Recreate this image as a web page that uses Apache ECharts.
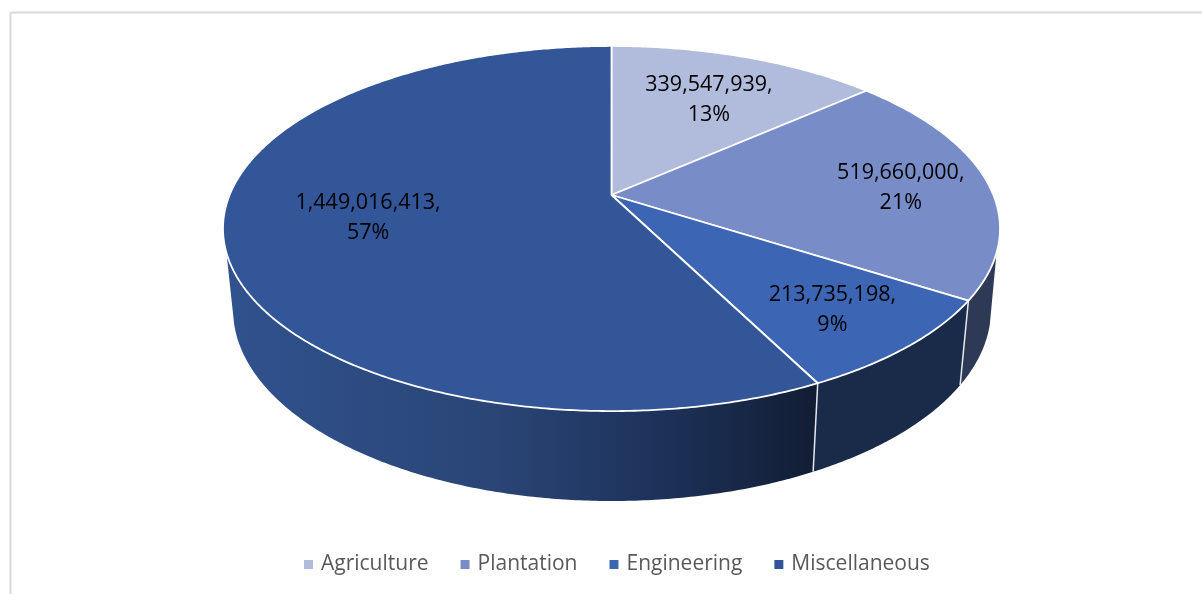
<!DOCTYPE html>
<html><head><meta charset="utf-8">
<style>html,body{margin:0;padding:0;background:#fff}#c{width:1202px;height:594px}</style>
<script src="https://cdn.jsdelivr.net/npm/echarts@6/dist/echarts.min.js"></script>
</head><body><div id="c"></div>
<script>
const categories = ['Agriculture', 'Plantation', 'Engineering', 'Miscellaneous'];
const values = [339547939, 519660000, 213735198, 1449016413];
const percentLabels = ['13%', '21%', '9%', '57%'];
const topColors = ['#B1BBDC', '#788DC8', '#3C66B3', '#335698'];

const total = values.reduce((a, b) => a + b, 0);
const FONT = '"Open Sans","Noto Sans",sans-serif';
// perspective disc geometry (style, not data)
const P = 0.1836;
const TOP = { cx: 611.5, cy: 195, a: 381.9, b: 176.4 };
const BOT = { cx: 612, cy: 274.4, a: 372.5, b: 185 };
const WALL_FROM = 108, WALL_TO = 252, BOT_EXTRA = 3.2;
const LABEL_R = [0.67, 0.76, 0.772, 0.635];
const LABEL_NUDGE = [[3, 2], [3, 3], [0, 2], [-1, -4]];
const WALL_FILL = [
  null, '#2E3A55', '#1A2B4A',
  new echarts.graphic.LinearGradient(0, 0, 1, 0, [
    { offset: 0, color: '#30528E' },
    { offset: 0.45, color: '#2A4576' },
    { offset: 0.75, color: '#1C3158' },
    { offset: 1, color: '#121D33' }
  ])
];
function proj(d, deg, r) {
  const t = deg * Math.PI / 180, u = r * Math.sin(t), v = r * Math.cos(t), w = 1 + P * v;
  return [d.cx + d.a * u / w, d.cy - d.b * v / w];
}
function arc(d, s, e) {
  const pts = [], n = Math.max(2, Math.ceil(Math.abs(e - s) * 2));
  for (let i = 0; i <= n; i++) pts.push(proj(d, s + (e - s) * i / n, 1));
  return pts;
}
function renderSlice(idx) {
  return function (params, api) {
    const val = api.value(0);
    let before = 0;
    for (let i = 0; i < idx; i++) before += values[i];
    const s = before / total * 360, e = (before + val) / total * 360;
    const children = [];
    const ws = Math.max(s, WALL_FROM), we = Math.min(e, WALL_TO);
    if (we > ws) {
      const bs = s > WALL_FROM ? s : WALL_FROM - BOT_EXTRA;
      const be = e < WALL_TO ? e : WALL_TO + BOT_EXTRA;
      children.push({
        type: 'polygon', z2: 1,
        shape: { points: arc(TOP, ws, we).concat(arc(BOT, bs, be).reverse()) },
        style: { fill: WALL_FILL[idx], stroke: 'none' }
      });
      // white divider at the slice's starting edge on the wall
      if (s >= WALL_FROM && s <= WALL_TO) {
        const a = proj(TOP, s, 1), b = proj(BOT, s, 1);
        children.push({
          type: 'line', z2: 2,
          shape: { x1: a[0], y1: a[1], x2: b[0], y2: b[1] },
          style: { stroke: '#E4E7EE', lineWidth: 1.5 }
        });
      }
    }
    children.push({
      type: 'polygon', z2: 10,
      shape: { points: [[TOP.cx, TOP.cy]].concat(arc(TOP, s, e)) },
      style: { fill: topColors[idx], stroke: '#FFFFFF', lineWidth: 1.8, lineJoin: 'round' }
    });
    const lp = proj(TOP, (s + e) / 2, LABEL_R[idx]);
    children.push({
      type: 'text', z2: 20, x: lp[0] + LABEL_NUDGE[idx][0], y: lp[1] + LABEL_NUDGE[idx][1],
      style: {
        text: val.toLocaleString('en-US') + ',\n' + percentLabels[idx],
        fill: '#000', font: '21.5px ' + FONT, lineHeight: 29.5,
        textAlign: 'center', textVerticalAlign: 'middle'
      }
    });
    return { type: 'group', children };
  };
}
const chart = echarts.init(document.getElementById('c'), null, { renderer: 'canvas' });
chart.setOption({
  animation: false,
  backgroundColor: '#fff',
  legend: {
    data: categories, bottom: 14, left: 299, padding: 5, icon: 'rect',
    itemWidth: 9, itemHeight: 9, itemGap: 32, selectedMode: false,
    textStyle: { color: '#595959', fontSize: 21, fontFamily: FONT, padding: [0, 0, 0, 3] }
  },
  graphic: [
    { type: 'line', shape: { x1: 11, y1: 12.5, x2: 1202, y2: 12.5 }, style: { stroke: '#D9D9D9', lineWidth: 2 }, silent: true },
    { type: 'line', shape: { x1: 10.5, y1: 12, x2: 10.5, y2: 594 }, style: { stroke: '#D9D9D9', lineWidth: 2 }, silent: true }
  ],
  series: categories.map((name, i) => ({
    type: 'custom', name, coordinateSystem: 'none', silent: true,
    itemStyle: { color: topColors[i] },
    data: [[values[i]]],
    renderItem: renderSlice(i)
  }))
});
</script></body></html>
